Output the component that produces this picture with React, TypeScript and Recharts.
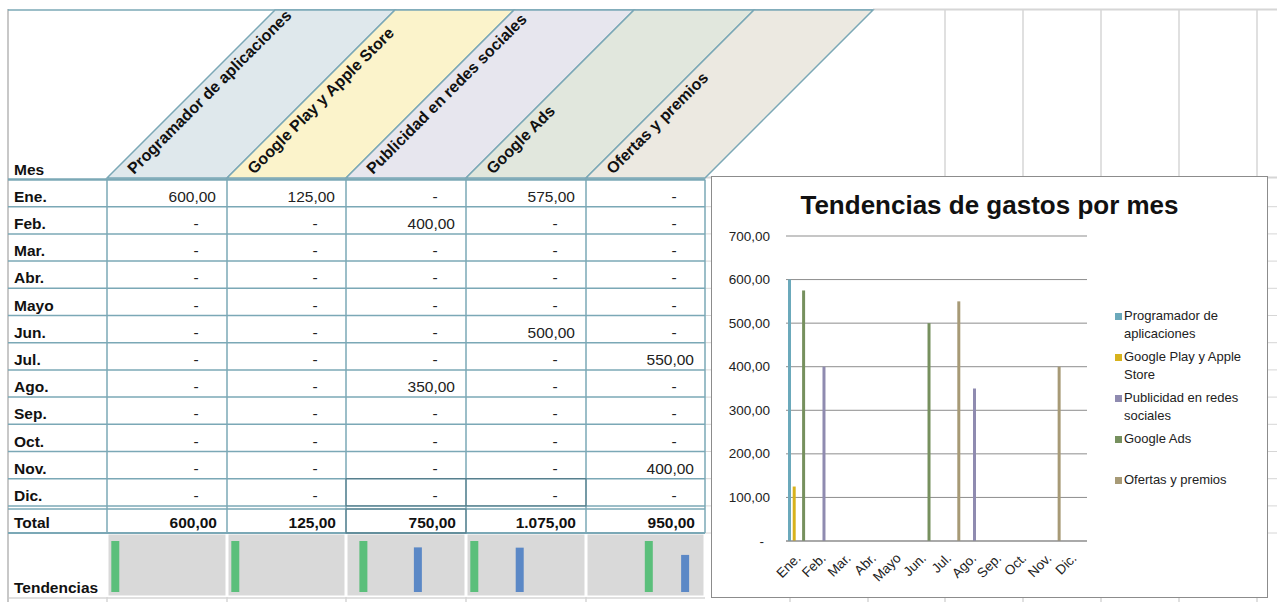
import React from 'react';
import { BarChart, Bar, XAxis, YAxis, CartesianGrid, Legend, Cell } from 'recharts';

const meses = ['Ene.', 'Feb.', 'Mar.', 'Abr.', 'Mayo', 'Jun.', 'Jul.', 'Ago.', 'Sep.', 'Oct.', 'Nov.', 'Dic.'];

const programador = [600, 0, 0, 0, 0, 0, 0, 0, 0, 0, 0, 0];
const googlePlay = [125, 0, 0, 0, 0, 0, 0, 0, 0, 0, 0, 0];
const publicidad = [0, 400, 0, 0, 0, 0, 0, 350, 0, 0, 0, 0];
const googleAds = [575, 0, 0, 0, 0, 500, 0, 0, 0, 0, 0, 0];
const ofertas = [0, 0, 0, 0, 0, 0, 550, 0, 0, 0, 400, 0];

const categorias = [
  'Programador de aplicaciones',
  'Google Play y Apple Store',
  'Publicidad en redes sociales',
  'Google Ads',
  'Ofertas y premios',
];
const leyendaLineas = [
  ['Programador de', 'aplicaciones'],
  ['Google Play y Apple', 'Store'],
  ['Publicidad en redes', 'sociales'],
  ['Google Ads'],
  ['Ofertas y premios'],
];
const claves = ['programador', 'googlePlay', 'publicidad', 'googleAds', 'ofertas'];
const series = [programador, googlePlay, publicidad, googleAds, ofertas];
const marcasY = [0, 100, 200, 300, 400, 500, 600, 700];

const coloresBarra = ['#6ba9bb', '#d7b21c', '#8f8bb0', '#76905e', '#a79a76'];
const coloresCabecera = ['#dfe8ec', '#fbf3cb', '#e7e6ee', '#e1e7dd', '#ece9e1'];

const FUENTE = '"Liberation Sans", Arial, Helvetica, sans-serif';
const BORDE = '#7ba8b6';
const REJILLA = '#d6d6d6';
const TAM = 15.5;

// limites de columnas de la hoja (Mes + 5 categorias)
const colX = [8, 107, 227, 346, 466, 586, 705];
const filaTop = 179.5;
const filaAlto = 27.2;
const totalTop = 509;
const totalBottom = 533;
const tendBottom = 597;

const datos = meses.map((mes, i) => {
  const fila: Record<string, any> = { mes };
  claves.forEach((k, s) => (fila[k] = series[s][i]));
  return fila;
});

const fmt = (v: number) => {
  if (v === 0) return '-';
  const [ent, dec] = v.toFixed(2).split('.');
  return ent.replace(/\B(?=(\d{3})+(?!\d))/g, '.') + ',' + dec;
};

const Hoja = () => {
  const filas = meses.map((_, i) => filaTop + i * filaAlto);
  const dicBottom = filaTop + 12 * filaAlto;
  const rejillaCols = [790, 868, 945, 1023, 1101, 1179, 1257];
  const rejillaFilas = [...filas.slice(1), dicBottom, totalBottom];

  return (
    <svg width={1277} height={602} style={{ position: 'absolute', left: 0, top: 0 }} fontFamily={FUENTE}>
      <rect x={0} y={0} width={1277} height={602} fill="#fff" />

      {/* rejilla de la hoja a la derecha */}
      <line x1={873} y1={9.5} x2={1277} y2={9.5} stroke={REJILLA} strokeWidth={2} />
      <line x1={705} y1={177.5} x2={1277} y2={177.5} stroke={REJILLA} strokeWidth={2} />
      {rejillaCols.map((x) => (
        <line key={x} x1={x} y1={x > 900 ? 10 : 178} x2={x} y2={602} stroke={REJILLA} strokeWidth={1.5} />
      ))}
      {rejillaFilas.map((y) => (
        <line key={y} x1={705} y1={y} x2={1277} y2={y} stroke={REJILLA} strokeWidth={1} />
      ))}
      <line x1={8} y1={598} x2={705} y2={598} stroke={REJILLA} strokeWidth={1.5} />
      {colX.slice(1, 6).map((x) => (
        <line key={'t' + x} x1={x} y1={597} x2={x} y2={602} stroke={REJILLA} strokeWidth={1.5} />
      ))}
      <line x1={8} y1={9} x2={8} y2={602} stroke="#c8c8c8" strokeWidth={2} />

      {/* cabecera inclinada */}
      <line x1={8} y1={10} x2={873} y2={10} stroke={BORDE} strokeWidth={1.5} />
      {categorias.map((cat, c) => {
        const L = colX[c + 1];
        const R = colX[c + 2];
        return (
          <g key={cat}>
            <polygon
              points={`${L},178 ${R},178 ${R + 168},10 ${L + 168},10`}
              fill={coloresCabecera[c]}
              stroke={BORDE}
              strokeWidth={1.5}
            />
            <text
              x={L + 27}
              y={175}
              transform={`rotate(-45 ${L + 27} 175)`}
              fontSize={16}
              fontWeight="bold"
              fill="#111"
            >
              {cat}
            </text>
          </g>
        );
      })}
      <text x={14} y={175} fontSize={TAM} fontWeight="bold" fill="#111">Mes</text>

      {/* filas de meses */}
      <line x1={8} y1={filaTop} x2={705} y2={filaTop} stroke={BORDE} strokeWidth={2.5} />
      {meses.map((mes, i) => {
        const top = filas[i];
        const bottom = top + filaAlto;
        return (
          <g key={mes}>
            <line x1={8} y1={bottom} x2={705} y2={bottom} stroke={BORDE} strokeWidth={1.5} />
            <text x={14} y={bottom - 5} fontSize={TAM} fontWeight="bold" fill="#111">{mes}</text>
            {series.map((s, c) => {
              const R = colX[c + 2];
              const v = s[i];
              return v === 0 ? (
                <text key={c} x={R - 31} y={bottom - 5} fontSize={TAM} textAnchor="middle" fill="#222">-</text>
              ) : (
                <text key={c} x={R - 11} y={bottom - 5} fontSize={TAM} textAnchor="end" fill="#222">{fmt(v)}</text>
              );
            })}
          </g>
        );
      })}
      <line x1={8} y1={totalTop} x2={705} y2={totalTop} stroke={BORDE} strokeWidth={1.5} />
      <line x1={8} y1={totalBottom} x2={705} y2={totalBottom} stroke={BORDE} strokeWidth={2} />
      {colX.slice(1).map((x) => (
        <line key={'v' + x} x1={x} y1={filaTop} x2={x} y2={totalBottom} stroke={BORDE} strokeWidth={1.5} />
      ))}
      {/* celdas con contorno oscuro */}
      <rect x={346} y={dicBottom - filaAlto} width={240} height={filaAlto} fill="none" stroke="#4f7683" strokeWidth={1} />
      <line x1={466} y1={dicBottom - filaAlto} x2={466} y2={dicBottom} stroke="#4f7683" strokeWidth={1} />
      <rect x={346} y={totalTop} width={120} height={totalBottom - totalTop} fill="none" stroke="#4f7683" strokeWidth={1} />

      {/* totales */}
      <text x={14} y={528} fontSize={TAM} fontWeight="bold" fill="#111">Total</text>
      {series.map((s, c) => (
        <text key={'tot' + c} x={colX[c + 2] - 10} y={528} fontSize={TAM} fontWeight="bold" textAnchor="end" fill="#111">
          {fmt(s.reduce((a, b) => a + b, 0))}
        </text>
      ))}

      {/* fondo de las tendencias */}
      {series.map((_, c) => (
        <rect
          key={'tf' + c}
          x={colX[c + 1] + 1.5}
          y={totalBottom + 1.5}
          width={colX[c + 2] - colX[c + 1] - 3}
          height={tendBottom - totalBottom - 3}
          fill="#d9d9d9"
        />
      ))}
      <text x={14} y={593} fontSize={TAM} fontWeight="bold" fill="#111">Tendencias</text>
    </svg>
  );
};

const Minigrafico = ({ valores, left }: { valores: number[]; left: number }) => {
  const max = Math.max(...valores);
  const d = meses.map((mes, i) => ({ mes, v: valores[i] }));
  return (
    <div style={{ position: 'absolute', left, top: 541 }}>
      <BarChart width={109} height={51} data={d} margin={{ top: 0, right: 0, bottom: 0, left: 0 }} barCategoryGap={0.3}>
        <XAxis dataKey="mes" hide />
        <YAxis hide domain={[0, max]} />
        <Bar dataKey="v" isAnimationActive={false}>
          {d.map((p, i) => (
            <Cell key={i} fill={p.v === max ? '#5bbf7b' : '#5b88c6'} />
          ))}
        </Bar>
      </BarChart>
    </div>
  );
};

const TickMes = ({ x, y, payload }: any) => {
  const ax = x + 3;
  const ay = y + 10;
  return (
    <text x={ax} y={ay} transform={`rotate(-45 ${ax} ${ay})`} textAnchor="end" fontSize={13.5} fill="#222" fontFamily={FUENTE}>
      {payload.value}
    </text>
  );
};

const TickValor = ({ x, y, payload }: any) => (
  <text x={payload.value === 0 ? x - 6 : x} y={y + 4.5} textAnchor="end" fontSize={13.5} fill="#222" fontFamily={FUENTE}>
    {fmt(payload.value)}
  </text>
);

const LeyendaGastos = () => (
  <div style={{ fontFamily: FUENTE, fontSize: 13, color: '#222' }}>
    {leyendaLineas.map((lineas, s) => (
      <div key={s} style={{ position: 'relative', height: 41, paddingLeft: 9, lineHeight: '18px' }}>
        <span
          style={{ position: 'absolute', left: 0, top: 6, width: 7, height: 7, background: coloresBarra[s] }}
        />
        {lineas.map((l) => (
          <div key={l} style={{ whiteSpace: 'nowrap' }}>{l}</div>
        ))}
      </div>
    ))}
  </div>
);

const GraficoGastos = () => (
  <div
    style={{
      position: 'absolute',
      left: 711,
      top: 176,
      width: 555,
      height: 420,
      border: '1px solid #8c8c8c',
      background: '#fff',
    }}
  >
    <div
      style={{
        position: 'absolute',
        top: 13,
        left: 0,
        width: 555,
        height: 30,
        lineHeight: '30px',
        textAlign: 'center',
        fontFamily: FUENTE,
        fontWeight: 'bold',
        fontSize: 26,
        color: '#111',
      }}
    >
      Tendencias de gastos por mes
    </div>
    <BarChart
      width={555}
      height={420}
      data={datos}
      margin={{ top: 59, right: 180, bottom: 0, left: 0 }}
      barSize={3}
      barGap={1.7}
    >
      <CartesianGrid vertical={false} stroke="#8d8d8d" strokeWidth={1} />
      <XAxis dataKey="mes" height={56} tick={<TickMes />} tickLine={false} axisLine={{ stroke: '#8d8d8d' }} interval={0} />
      <YAxis
        width={74}
        domain={[0, 700]}
        ticks={marcasY}
        tick={<TickValor />}
        tickLine={false}
        axisLine={false}
        tickSize={0}
        tickMargin={16}
      />
      <Legend
        layout="vertical"
        align="center"
        verticalAlign="middle"
        wrapperStyle={{ left: 403, top: 130, width: 150 }}
        content={<LeyendaGastos />}
      />
      {claves.map((k, s) => (
        <Bar key={k} dataKey={k} name={categorias[s]} fill={coloresBarra[s]} isAnimationActive={false} />
      ))}
    </BarChart>
  </div>
);

export default function App() {
  return (
    <div style={{ position: 'absolute', left: 0, top: 0, width: 1277, height: 602, overflow: 'hidden', background: '#fff' }}>
      <Hoja />
      {series.map((s, c) => (
        <Minigrafico key={c} valores={s} left={colX[c + 1] + 4} />
      ))}
      <GraficoGastos />
    </div>
  );
}
